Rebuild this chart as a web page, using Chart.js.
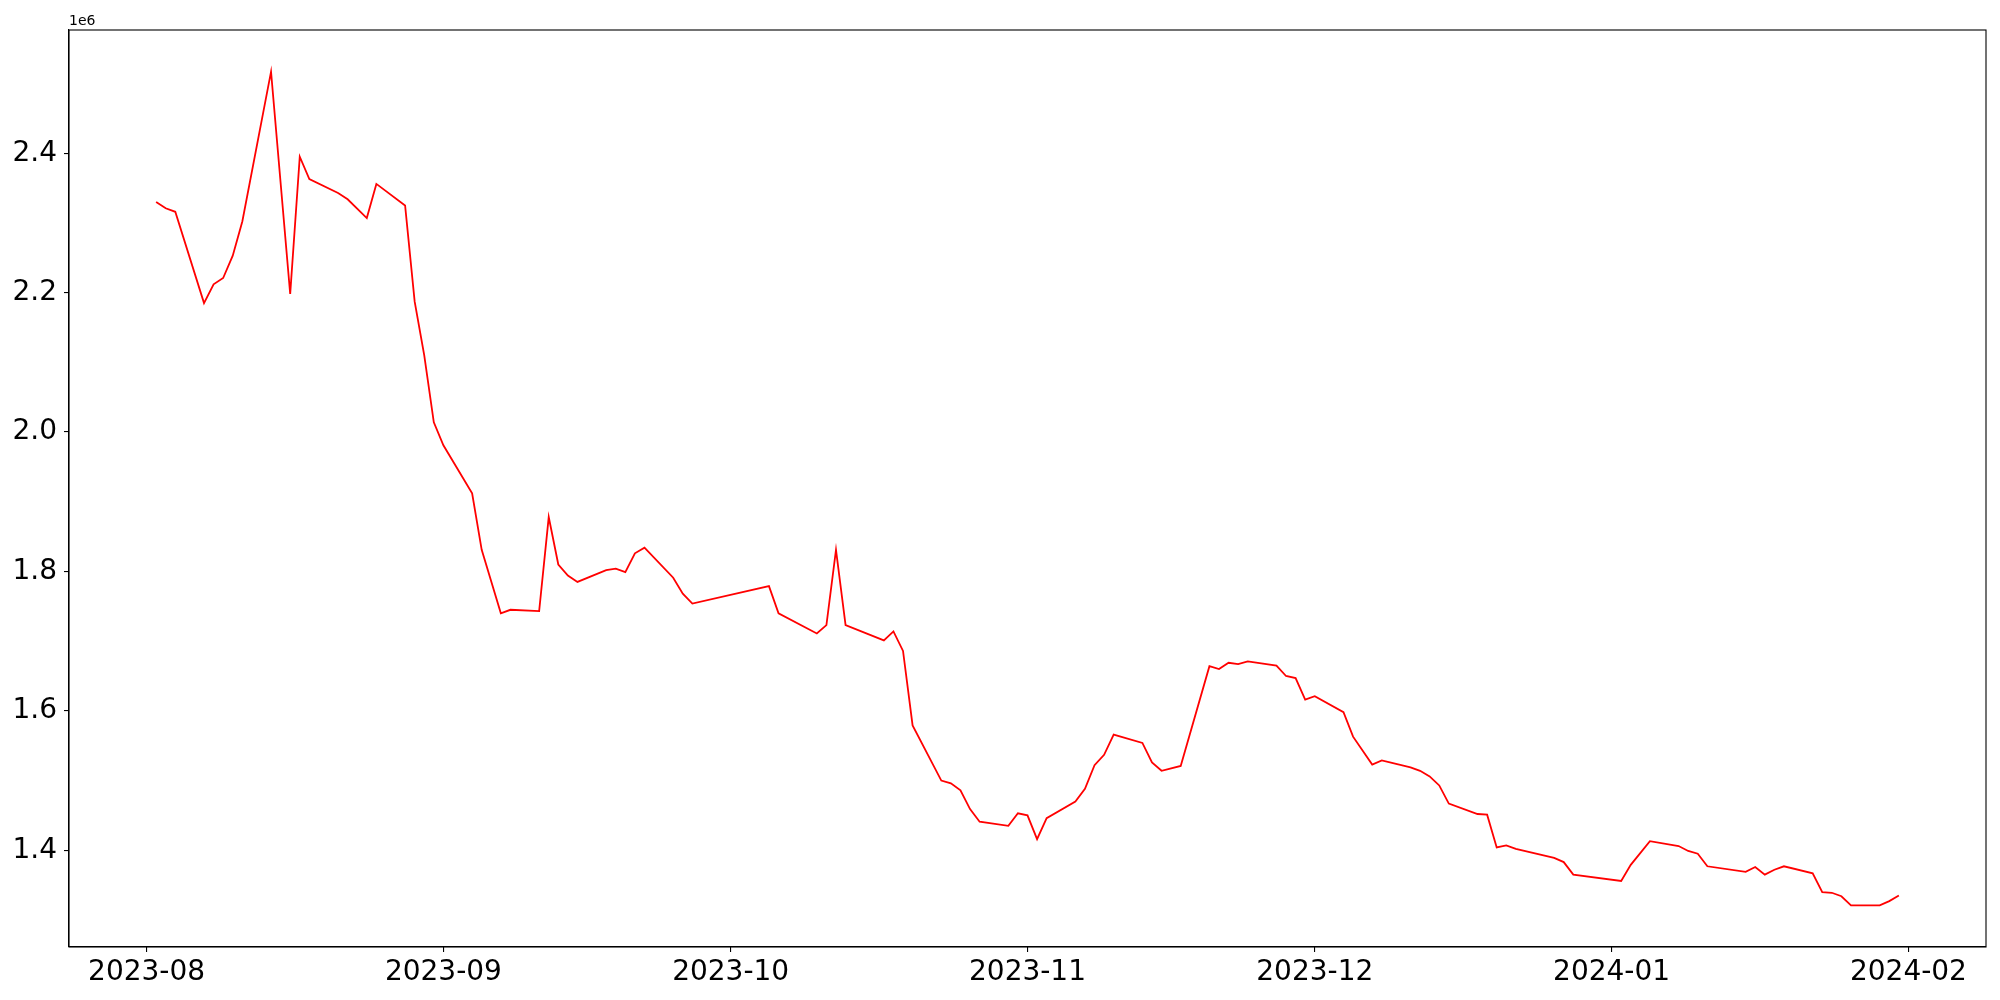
<!DOCTYPE html>
<html>
<head>
<meta charset="utf-8">
<script src="https://cdn.jsdelivr.net/npm/chart.js@4.4.1/dist/chart.umd.min.js"></script>
<style>
    body { margin: 0; background: #fff; }
</style>
</head>
<body>
<canvas id="chart" width="2000" height="1000"></canvas>
<script>
const dates = [
    '2023-08-02', '2023-08-03', '2023-08-04', '2023-08-07', '2023-08-08', '2023-08-09', '2023-08-10', '2023-08-11',
    '2023-08-14', '2023-08-16', '2023-08-17', '2023-08-18', '2023-08-21', '2023-08-22', '2023-08-24', '2023-08-25',
    '2023-08-28', '2023-08-29', '2023-08-30', '2023-08-31',
    '2023-09-01', '2023-09-04', '2023-09-05', '2023-09-07', '2023-09-08', '2023-09-11', '2023-09-12', '2023-09-13',
    '2023-09-14', '2023-09-15', '2023-09-18', '2023-09-19', '2023-09-20', '2023-09-21', '2023-09-22', '2023-09-25',
    '2023-09-26', '2023-09-27',
    '2023-10-05', '2023-10-06', '2023-10-10', '2023-10-11', '2023-10-12', '2023-10-13', '2023-10-17', '2023-10-18',
    '2023-10-19', '2023-10-20', '2023-10-23', '2023-10-24', '2023-10-25', '2023-10-26', '2023-10-27', '2023-10-30',
    '2023-10-31',
    '2023-11-01', '2023-11-02', '2023-11-03', '2023-11-06', '2023-11-07', '2023-11-08', '2023-11-09', '2023-11-10',
    '2023-11-13', '2023-11-14', '2023-11-15', '2023-11-17', '2023-11-20', '2023-11-21', '2023-11-22', '2023-11-23',
    '2023-11-24', '2023-11-27', '2023-11-28', '2023-11-29', '2023-11-30',
    '2023-12-01', '2023-12-04', '2023-12-05', '2023-12-07', '2023-12-08', '2023-12-11', '2023-12-12', '2023-12-13',
    '2023-12-14', '2023-12-15', '2023-12-18', '2023-12-19', '2023-12-20', '2023-12-21', '2023-12-22', '2023-12-26',
    '2023-12-27', '2023-12-28',
    '2024-01-02', '2024-01-03', '2024-01-05', '2024-01-08', '2024-01-09', '2024-01-10', '2024-01-11', '2024-01-15',
    '2024-01-16', '2024-01-17', '2024-01-18', '2024-01-19', '2024-01-22', '2024-01-23', '2024-01-24', '2024-01-25',
    '2024-01-26', '2024-01-29', '2024-01-30', '2024-01-31'
];

const values = [
    2330000, 2321000, 2316000, 2185000, 2212000, 2221000, 2253000, 2302000,
    2517000, 2198000, 2395000, 2363000, 2343000, 2334000, 2307000, 2356000,
    2325000, 2187000, 2110000, 2014000,
    1981000, 1912000, 1831000, 1740000, 1745000, 1743000, 1878000, 1810000,
    1794000, 1785000, 1802000, 1804000, 1799000, 1826000, 1834000, 1791000,
    1768000, 1754000,
    1779000, 1740000, 1711000, 1723000, 1831000, 1723000, 1701000, 1714000,
    1686000, 1579000, 1500000, 1496000, 1486000, 1459000, 1441000, 1435000,
    1453000,
    1450000, 1416000, 1446000, 1470000, 1488000, 1522000, 1537000, 1566000,
    1554000, 1526000, 1514000, 1521000, 1664000, 1660000, 1669000, 1667000,
    1671000, 1665000, 1650000, 1647000, 1616000,
    1621000, 1598000, 1563000, 1523000, 1529000, 1519000, 1514000, 1506000,
    1493000, 1467000, 1452000, 1451000, 1404000, 1407000, 1402000, 1389000,
    1383000, 1365000,
    1356000, 1379000, 1413000, 1406000, 1399000, 1395000, 1377000, 1369000,
    1376000, 1365000, 1372000, 1377000, 1367000, 1340000, 1339000, 1334000,
    1321000, 1321000, 1327000, 1335000
];

const xTickDates = ['2023-08-01', '2023-09-01', '2023-10-01', '2023-11-01', '2023-12-01', '2024-01-01', '2024-02-01'];
const xTickLabels = ['2023-08', '2023-09', '2023-10', '2023-11', '2023-12', '2024-01', '2024-02'];
const yTicks = [1400000, 1600000, 1800000, 2000000, 2200000, 2400000];

const FONT = 'DejaVu Sans';

// matplotlib style 5% margins
const xs = dates.map(d => Date.parse(d));
const xMin = Math.min(...xs), xMax = Math.max(...xs);
const yMin = Math.min(...values), yMax = Math.max(...values);
const xPad = (xMax - xMin) * 0.05;
const yPad = (yMax - yMin) * 0.05;
const xTickValues = xTickDates.map(d => Date.parse(d));

// top/right spines plus the offset text
const framePlugin = {
    id: 'frame',
    afterDraw(chart) {
        const { ctx, chartArea } = chart;
        ctx.save();
        ctx.strokeStyle = '#000';
        ctx.lineWidth = 1.1;
        ctx.strokeRect(chartArea.left, chartArea.top, chartArea.right - chartArea.left, chartArea.bottom - chartArea.top);
        ctx.fillStyle = '#000';
        ctx.font = '14px "' + FONT + '"';
        ctx.textAlign = 'left';
        ctx.textBaseline = 'bottom';
        ctx.fillText('1e6', chartArea.left, chartArea.top - 2);
        ctx.restore();
    }
};

const ctx = document.getElementById('chart').getContext('2d');
new Chart(ctx, {
    type: 'line',
    data: {
        datasets: [
            {
                data: xs.map((x, i) => ({ x: x, y: values[i] })),
                borderColor: '#ff0000',
                borderWidth: 1.8,
                pointRadius: 0,
                tension: 0,
                fill: false,
            },
        ],
    },
    options: {
        responsive: false,
        animation: false,
        devicePixelRatio: 1,
        layout: {
            padding: { left: 0, right: 14, top: 30, bottom: 0 },
        },
        plugins: {
            legend: { display: false },
            tooltip: { enabled: false },
        },
        scales: {
            x: {
                type: 'linear',
                min: xMin - xPad,
                max: xMax + xPad,
                afterBuildTicks: (scale) => {
                    scale.ticks = xTickValues.map(v => ({ value: v }));
                },
                afterFit: (scale) => {
                    scale.height = 53;
                },
                ticks: {
                    autoSkip: false,
                    maxRotation: 0,
                    padding: 4,
                    color: '#000',
                    font: { family: FONT, size: 28 },
                    callback: (value, index) => xTickLabels[index],
                },
                grid: {
                    display: true,
                    drawOnChartArea: false,
                    drawTicks: true,
                    tickLength: 5,
                    color: '#000',
                    lineWidth: 1.1,
                },
                border: { display: true, color: '#000', width: 1.1 },
            },
            y: {
                type: 'linear',
                min: yMin - yPad,
                max: yMax + yPad,
                afterBuildTicks: (scale) => {
                    scale.ticks = yTicks.map(v => ({ value: v }));
                },
                afterFit: (scale) => {
                    scale.width = 69;
                },
                ticks: {
                    autoSkip: false,
                    padding: 7,
                    color: '#000',
                    font: { family: FONT, size: 28 },
                    callback: (value) => (value / 1e6).toFixed(1),
                },
                grid: {
                    display: true,
                    drawOnChartArea: false,
                    drawTicks: true,
                    tickLength: 5,
                    color: '#000',
                    lineWidth: 1.1,
                },
                border: { display: true, color: '#000', width: 1.1 },
            },
        },
    },
    plugins: [framePlugin],
});
</script>
</body>
</html>
